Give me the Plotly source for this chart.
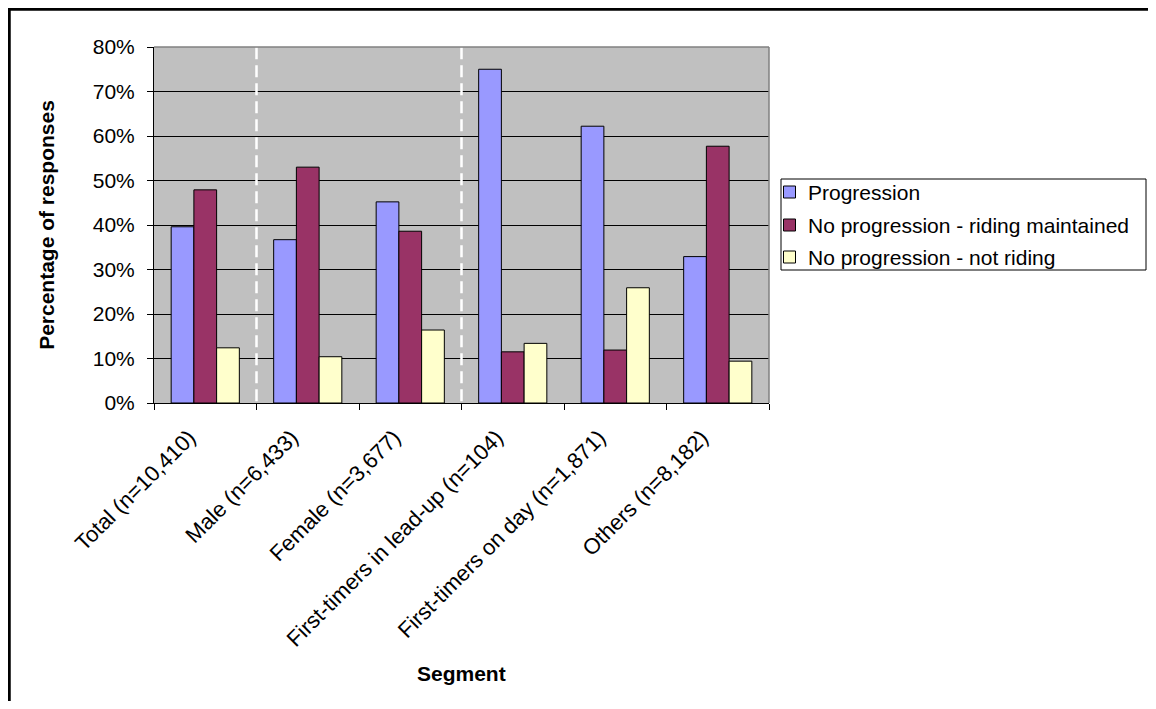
import plotly.graph_objects as go

# ---- data ----
categories = [
    "Total (n=10,410)",
    "Male (n=6,433)",
    "Female (n=3,677)",
    "First-timers in lead-up (n=104)",
    "First-timers on day (n=1,871)",
    "Others (n=8,182)",
]
series_names = [
    "Progression",
    "No progression - riding maintained",
    "No progression - not riding",
]
progression = [39.6, 36.7, 45.2, 75.0, 62.2, 32.9]
riding_maintained = [47.9, 53.0, 38.6, 11.5, 11.9, 57.7]
not_riding = [12.4, 10.4, 16.4, 13.4, 25.9, 9.4]
y_tick_values = [0, 10, 20, 30, 40, 50, 60, 70, 80]
y_tick_labels = [f"{v}%" for v in y_tick_values]
separator_after = [0, 2]  # dashed separators after these category indexes

# ---- styles ----
colors = ["#9999FF", "#993366", "#FFFFCC"]
FONT = "Arial, 'Liberation Sans', sans-serif"
OFF = 8                      # page offset of the figure (body margin)
W, H = 1156 - 2 * OFF, 709 - 2 * OFF
# plot area in page pixels
PL, PR, PT, PB = 154, 769, 47, 403
L, R, T, B = PL - OFF, PR - OFF, PT - OFF, PB - OFF


def px_x(p):
    """page x pixel -> paper coordinate"""
    return (p - OFF - L) / (R - L)


def px_y(p):
    """page y pixel -> paper coordinate"""
    return (B - (p - OFF)) / (B - T)


fig = go.Figure()
for name, vals, col in zip(series_names, [progression, riding_maintained, not_riding], colors):
    fig.add_trace(go.Bar(
        name=name, x=categories, y=vals,
        marker=dict(color=col, line=dict(color="black", width=1)),
        hovertemplate="%{x}<br>" + name + ": %{y}%<extra></extra>",
        showlegend=False,
    ))

shapes = []
annotations = []
# dashed white separators at category boundaries
for idx in separator_after:
    shapes.append(dict(type="line", xref="x", yref="y", x0=idx + 0.5, x1=idx + 0.5,
                       y0=0.4, y1=80, line=dict(color="white", width=2.5, dash="12px,6px"),
                       layer="above"))
# grey top and right plot borders
shapes.append(dict(type="line", xref="paper", yref="paper", x0=0, x1=1, y0=1, y1=1,
                   line=dict(color="#808080", width=1.5), layer="above"))
shapes.append(dict(type="line", xref="paper", yref="paper", x0=1, x1=1, y0=0, y1=1,
                   line=dict(color="#808080", width=1.5), layer="above"))
# outer chart frame: only its top and left edges fall inside the picture
shapes.append(dict(type="line", xref="paper", yref="paper",
                   x0=px_x(8), x1=px_x(1160), y0=px_y(9), y1=px_y(9),
                   line=dict(color="black", width=3.5), layer="below"))
shapes.append(dict(type="line", xref="paper", yref="paper",
                   x0=px_x(9), x1=px_x(9), y0=px_y(7.5), y1=px_y(720),
                   line=dict(color="black", width=3.5), layer="below"))

# manual legend (box, swatches, labels)
LEG_L, LEG_R, LEG_T, LEG_B = 781, 1146, 179, 270
item_y = [192, 225, 257]
shapes.append(dict(type="rect", xref="paper", yref="paper",
                   x0=px_x(LEG_L), x1=px_x(LEG_R), y0=px_y(LEG_T), y1=px_y(LEG_B),
                   line=dict(color="black", width=1), fillcolor="white", layer="above"))
for name, col, yy in zip(series_names, colors, item_y):
    shapes.append(dict(type="rect", xref="paper", yref="paper",
                       x0=px_x(783.5), x1=px_x(795.5), y0=px_y(yy - 6), y1=px_y(yy + 6),
                       line=dict(color="black", width=1), fillcolor=col, layer="above"))
    annotations.append(dict(text=name, xref="paper", yref="paper",
                            x=px_x(806), y=px_y(yy), xanchor="left", yanchor="middle",
                            showarrow=False,
                            font=dict(family=FONT, size=21, color="black")))

# x-axis title
annotations.append(dict(text="<b>Segment</b>", xref="paper", yref="paper",
                        x=0.5, y=px_y(673), xanchor="center", yanchor="middle",
                        showarrow=False, font=dict(family=FONT, size=21, color="black")))

fig.update_layout(
    width=W, height=H,
    margin=dict(l=L, r=W - R, t=T, b=H - B, pad=0),
    paper_bgcolor="white",
    plot_bgcolor="#C0C0C0",
    barmode="group",
    bargap=0.335,
    bargroupgap=0,
    font=dict(family=FONT, color="black", size=21),
    shapes=shapes,
    annotations=annotations,
    showlegend=False,
)

fig.update_xaxes(
    type="category",
    showline=True, linecolor="black", linewidth=1,
    ticks="outside", tickson="boundaries", ticklen=6, tickcolor="black",
    tickangle=-45, tickfont=dict(family=FONT, size=22),
    ticklabelshift=-16, ticklabelstandoff=12,
    showgrid=False,
)
fig.update_yaxes(
    range=[0, 80], tickmode="array", tickvals=y_tick_values, ticktext=y_tick_labels,
    showline=True, linecolor="black", linewidth=1,
    ticks="outside", ticklen=6, tickcolor="black",
    ticklabelstandoff=8,
    showgrid=True, gridcolor="black", gridwidth=1,
    zeroline=False,
    tickfont=dict(family=FONT, size=21),
    title=dict(text="<b>Percentage of responses</b>", font=dict(family=FONT, size=21), standoff=32),
)

fig.write_html("out.html")
